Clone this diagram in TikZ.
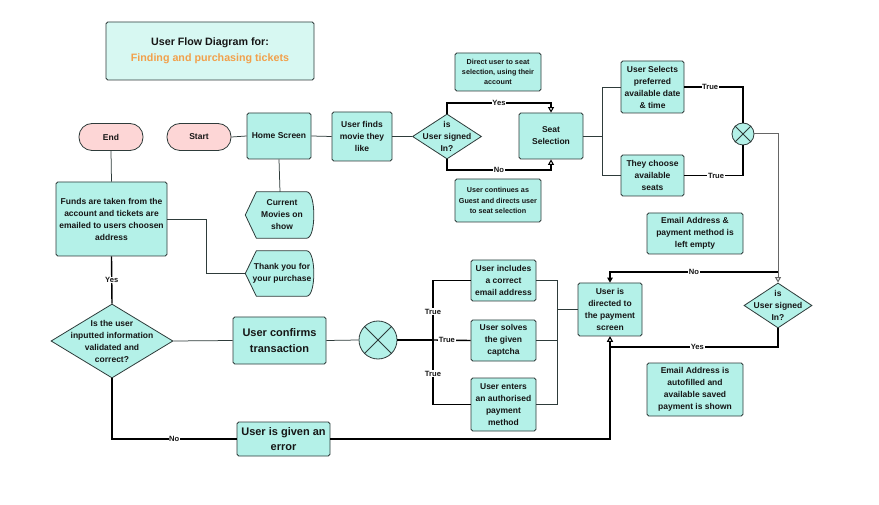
\documentclass[tikz,border=0pt]{standalone}
\usepackage{fontspec}
\setmainfont{Liberation Sans}
\usetikzlibrary{shapes.geometric,arrows.meta,calc,backgrounds}
\definecolor{boxfill}{HTML}{B4F1E8}
\definecolor{titlefill}{HTML}{D7F8F2}
\definecolor{pinkfill}{HTML}{FDD6D6}
\definecolor{orangetxt}{HTML}{F2A04B}
\definecolor{edge}{HTML}{2E3B3A}
\definecolor{ink}{HTML}{161616}
\begin{document}
\begin{tikzpicture}[x=1pt,y=-1pt,
  every node/.style={font=\bfseries\fontsize{8.5}{12}\selectfont, text=ink, align=center, inner sep=0pt},
  box/.style={draw=edge, fill=boxfill, rounded corners=1.8pt, line width=0.8pt},
  term/.style={draw=edge, fill=pinkfill, rounded corners=13pt, line width=0.8pt, minimum width=64pt, minimum height=27pt},
  dia/.style={diamond, draw=edge, fill=boxfill, line width=0.8pt},
  xcirc/.style={circle, draw=edge, fill=boxfill, line width=0.8pt, inner sep=0pt},
  disp/.style={draw=edge, fill=boxfill, line width=0.8pt},
  small/.style={font=\bfseries\fontsize{7.2}{10.3}\selectfont},
  big/.style={font=\bfseries\fontsize{11}{15.5}\selectfont},
  thin/.style={draw=edge, line width=0.75pt},
  heavy/.style={draw=black, line width=1.4pt},
  lab/.style={font=\bfseries\fontsize{7.6}{9}\selectfont, fill=white, inner sep=0.6pt},
  openarr/.style={-{Triangle[length=5.5pt,width=6pt,fill=white,line width=1pt]}},
  fullarr/.style={-{Triangle[length=5pt,width=5.5pt]}}
]
\useasboundingbox (0,0) rectangle (879,505);

% title
\node[box, fill=titlefill, minimum width=208pt, minimum height=58pt,
  font=\bfseries\fontsize{10.7}{15.7}\selectfont] (title) at (210,51)
  {User Flow Diagram for:\\\textcolor{orangetxt}{Finding and purchasing tickets}};

% top row
\node[term] (end) at (111,137) {End};
\node[term] (start) at (199,137) {Start};
\node[box, minimum width=64pt, minimum height=46pt] (home) at (279,136) {Home Screen};
\node[box, minimum width=60pt, minimum height=49pt] (finds) at (362,136.5) {User finds\\movie they\\like};
\node[dia, minimum width=69pt, minimum height=45pt] (d1) at (447,136.5) {};
\node at (447,136.5) {is\\User signed\\In?};
\node[box, small, minimum width=86pt, minimum height=38pt] (direct) at (498,72) {Direct user to seat\\selection, using their\\account};
\node[box, minimum width=64pt, minimum height=46pt] (seat) at (551,136) {Seat\\Selection};
\node[box, small, minimum width=86pt, minimum height=43pt] (guest) at (498,200.5) {User continues as\\Guest and directs user\\to seat selection};
\node[box, minimum width=63pt, minimum height=52pt] (selects) at (652.5,87) {User Selects\\preferred\\available date\\\& time};
\node[box, minimum width=63pt, minimum height=41pt] (choose) at (652.5,175.5) {They choose\\available\\seats};
\node[xcirc, minimum size=22pt] (c1) at (743,134) {};
\node[box, minimum width=96pt, minimum height=41pt] (empty) at (695,233.5) {Email Address \&\\payment method is\\left empty};

% right part
\node[dia, minimum width=68pt, minimum height=45pt] (d2) at (778,305.5) {};
\node at (778,305.5) {is\\User signed\\In?};
\node[box, minimum width=64pt, minimum height=53pt] (pay) at (610,309.5) {User is\\directed to\\the payment\\screen};
\node[box, minimum width=96pt, minimum height=53pt] (autof) at (695,389.5) {Email Address is\\autofilled and\\available saved\\payment is shown};

% checks
\node[box, minimum width=65pt, minimum height=41pt] (email) at (503.5,280.5) {User includes\\a correct\\email address};
\node[box, minimum width=65pt, minimum height=41pt] (captcha) at (503.5,340.5) {User solves\\the given\\captcha};
\node[box, minimum width=65pt, minimum height=53pt] (method) at (503.5,404.5) {User enters\\an authorised\\payment\\method};
\node[xcirc, minimum size=38pt] (c2) at (378,340) {};
\node[box, big, minimum width=93pt, minimum height=47pt] (confirm) at (279.5,340.5) {User confirms\\transaction};
\node[dia, minimum width=122pt, minimum height=74pt] (d3) at (112,341) {};
\node at (112,341) {Is the user\\inputted information\\validated and\\correct?};
\node[box, big, minimum width=93pt, minimum height=34pt] (error) at (283.5,439) {User is given an\\error};

% left column
\node[box, minimum width=111pt, minimum height=74pt] (funds) at (111.5,219) {Funds are taken from the\\account and tickets are\\emailed to users choosen\\address};
\node[minimum width=69pt, minimum height=46pt] (movies) at (280,215) {};
\node[minimum width=69pt, minimum height=45pt] (thanks) at (280,273.5) {};

\begin{scope}[on background layer]
\fill[white] (0,0) rectangle (879,505);
\foreach \n in {movies,thanks}{
  \draw[disp] (\n.west) -- ([xshift=11pt]\n.north west) -- ([xshift=-8pt]\n.north east)
    .. controls ([xshift=1.5pt]\n.north east) and ([xshift=1.5pt]\n.south east) .. ([xshift=-8pt]\n.south east)
    -- ([xshift=11pt]\n.south west) -- cycle;
}
\end{scope}
\node at (282,215) {Current\\Movies on\\show};
\node at (282,273.5) {Thank you for\\your purchase};

% X marks in circles
\foreach \c in {c1,c2}{
  \draw[edge, line width=0.8pt] (\c.north east) -- (\c.south west);
  \draw[edge, line width=0.8pt] (\c.north west) -- (\c.south east);
}

% coordinates
\coordinate (sfan) at (602,136);
\coordinate (lfan) at (433,340);
\coordinate (rfan) at (557,309.5);
\coordinate (nojoin) at (778,272);
\coordinate (ybot) at (778,347);
\coordinate (d1top) at (447,103);
\coordinate (d1bot) at (447,170);
\coordinate (fjoin) at (206,219);

% thin connectors
\draw[thin] (start.east) -- (home.west);
\draw[thin] (home.east) -- (finds.west);
\draw[thin] (finds.east) -- (d1.west);
\draw[thin] (home.south) -- (movies.north);
\draw[thin] (end.south) -- (funds.north);
\draw[thin] (funds.east) -- (fjoin) |- (thanks.west);
\draw[thin] (d3.east) -- (confirm.west);
\draw[thin] (confirm.east) -- (c2.west);
\draw[thin] (seat.east) -- (sfan);
\draw[thin] (selects.west) -| (sfan);
\draw[thin] (choose.west) -| (sfan);
\draw[thin] (email.east) -| (rfan);
\draw[thin] (captcha.east) -| (rfan);
\draw[thin] (method.east) -| (rfan);
\draw[thin] (rfan) -- (pay.west);

% heavy connectors
\draw[heavy] (funds.south) -- node[lab]{Yes} (d3.north);
\draw[heavy, openarr] (d1.north) -- (d1top) -| node[lab, pos=0.25]{Yes} (seat.north);
\draw[heavy, openarr] (d1.south) -- (d1bot) -| node[lab, pos=0.25]{No} (seat.south);
\draw[heavy] (selects.east) -| node[lab, pos=0.22]{True} (c1.north);
\draw[heavy] (choose.east) -| node[lab, pos=0.27]{True} (c1.south);
\draw[draw=gray!80!black, line width=1pt, openarr] (c1.east) -| (d2.north);
\draw[heavy, fullarr] (nojoin) -| node[lab, pos=0.25]{No} (pay.north);
\draw[heavy, openarr] (d2.south) -- (ybot) -| node[lab, pos=0.24]{Yes} (pay.south);
\draw[heavy] (d3.south) |- node[lab, pos=0.75]{No} (error.west);
\draw[heavy, openarr] (error.east) -| (pay.south);
\draw[black, line width=2pt] (c2.east) -- (lfan);
\draw[heavy] (email.west) -| node[lab, pos=0.76]{True} (lfan);
\draw[heavy] (method.west) -| node[lab, pos=0.74]{True} (lfan);
\draw[heavy] (lfan) -- node[lab, pos=0.37]{True} (captcha.west);
\end{tikzpicture}
\end{document}
